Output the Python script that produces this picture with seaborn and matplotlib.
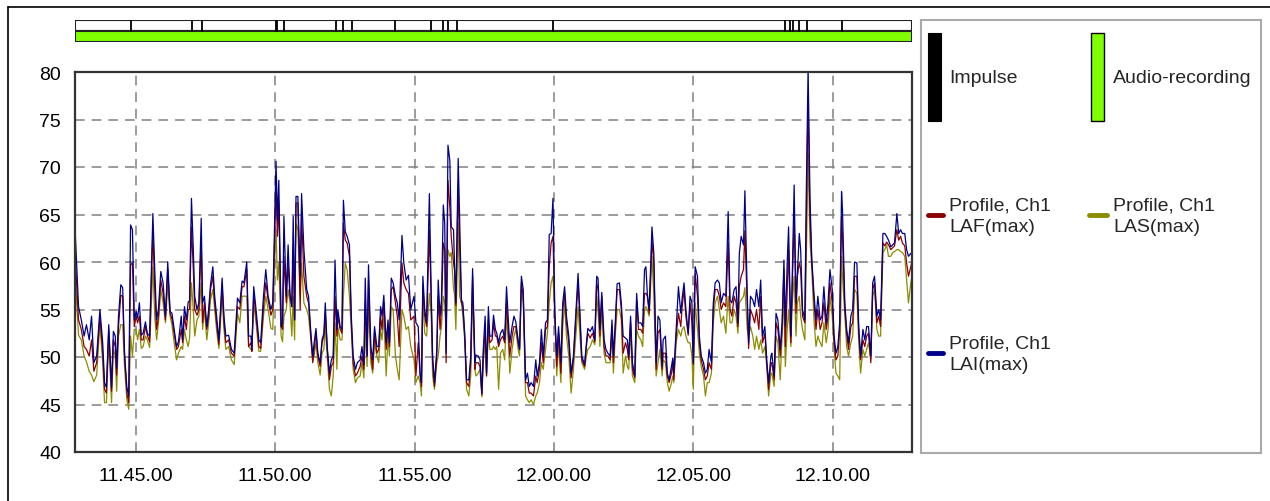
import pandas as pd
import matplotlib.pyplot as plt
import matplotlib.dates as mdates
from matplotlib.patches import Rectangle
from matplotlib.lines import Line2D
import seaborn as sns

# --- data: seconds after 11:40:00, levels in dB ---
BASE = pd.Timestamp("2000-01-01 11:40:00")

t_sec = [
    169, 177, 183, 189, 194, 200, 205, 210, 216, 223,
    229, 233, 237, 242, 248, 252, 256, 259, 263, 268,
    272, 276, 281, 285, 289, 293, 297, 301, 304, 308,
    312, 316, 321, 325, 330, 337, 341, 345, 349, 354,
    359, 364, 369, 374, 378, 382, 388, 392, 398, 401,
    405, 409, 413, 416, 420, 424, 427, 432, 436, 441,
    444, 448, 453, 457, 461, 466, 470, 474, 479, 486,
    490, 494, 500, 506, 512, 519, 524, 529,
    533, 539, 543, 548, 550, 554, 559, 565, 569, 575,
    580, 585, 591, 595, 599, 602, 605, 608, 613, 616,
    619, 624, 628, 632, 636, 639, 642, 645, 649, 654,
    657, 662, 668, 672, 677, 681, 684, 688, 692, 697,
    701, 705, 708, 712, 717, 721, 725, 729, 733, 735,
    740, 744, 747, 751, 755, 760, 764, 768, 773, 777,
    783, 787, 791, 794, 798, 801, 806, 810, 814, 819,
    823, 827, 830, 834, 839, 843, 846, 850, 854, 859,
    863, 867, 873, 877, 882, 887, 892,
    899, 903, 908, 912, 915, 918, 922, 926, 932, 936,
    939, 943, 948, 951, 955, 958, 962, 965, 968, 972,
    976, 979, 984, 986, 989, 994, 997, 1001, 1004, 1008,
    1012, 1017, 1021, 1025, 1030, 1032, 1037, 1041, 1045, 1048,
    1052, 1055, 1059, 1062, 1067, 1070, 1074, 1077, 1081, 1085,
    1090, 1094, 1098, 1103, 1105, 1110, 1114, 1118, 1123, 1126,
    1130, 1134, 1139, 1143, 1147, 1151, 1156, 1161, 1164, 1169,
    1173, 1177, 1182, 1186, 1190, 1194, 1198, 1202, 1206, 1210,
    1215, 1219, 1223, 1227, 1232, 1237, 1242, 1246, 1252,
    1256, 1260, 1266, 1270, 1273, 1278, 1283, 1288, 1292, 1295,
    1299, 1303, 1308, 1312, 1316, 1321, 1325, 1328, 1332, 1336,
    1341, 1345, 1349, 1354, 1358, 1361, 1365, 1369, 1374, 1378,
    1382, 1387, 1391, 1395, 1398, 1401, 1405, 1411, 1415, 1420,
    1424, 1428, 1433, 1435, 1440, 1444, 1448, 1453, 1456, 1458,
    1463, 1468, 1473, 1476, 1480, 1484, 1489, 1493, 1497, 1500,
    1504, 1509, 1513, 1517, 1522, 1526, 1530, 1534, 1539, 1543,
    1547, 1552, 1556, 1560, 1565, 1570, 1575, 1579, 1583, 1588,
    1592, 1596, 1599, 1603, 1608, 1611,
    1616, 1619, 1623, 1628, 1632, 1636, 1641, 1645, 1649, 1654,
    1658, 1662, 1667, 1669, 1674, 1678, 1682, 1687, 1691, 1695,
    1698, 1702, 1705, 1710, 1712, 1717, 1721, 1724, 1728, 1731,
    1735, 1740, 1743, 1747, 1751, 1755, 1760, 1764, 1768, 1773,
    1777, 1781, 1786, 1790, 1794, 1799, 1803, 1807, 1811, 1815,
    1819, 1821, 1826, 1830, 1834, 1839, 1843, 1847, 1852, 1856,
    1860, 1865, 1869, 1873, 1877, 1882, 1886, 1890, 1895, 1899,
    1903, 1908, 1912, 1916, 1920, 1925, 1929, 1933, 1938, 1942,
    1946, 1950, 1955, 1959, 1963, 1968, 1971,
]

lai_max = [
    64.1, 55.3, 53.9, 52.2, 53.4, 51.8, 54.3, 49.4, 50.1, 55.0,
    51.5, 47.3, 46.8, 53.4, 46.8, 52.7, 52.2, 48.8, 54.3, 57.6,
    57.3, 50.4, 46.8, 45.9, 63.9, 63.4, 53.9, 54.8, 54.1, 55.7,
    52.3, 52.5, 53.7, 52.5, 52.2, 65.1, 59.2, 53.9, 55.1, 59.0,
    57.8, 54.3, 60.0, 54.8, 54.6, 53.2, 51.1, 51.6, 54.3, 51.8,
    55.3, 53.9, 55.8, 55.9, 66.7, 61.3, 56.4, 55.0, 55.7, 64.6,
    55.7, 56.4, 53.2, 55.0, 57.6, 59.5, 56.4, 54.3, 51.8, 58.3,
    54.3, 52.2, 52.3, 50.8, 50.4, 56.2, 55.7, 58.0,
    57.8, 60.0, 52.2, 52.2, 50.8, 57.4, 55.0, 51.8, 51.5, 56.4,
    59.2, 56.4, 55.0, 55.7, 64.4, 70.6, 64.4, 68.6, 53.2, 53.6,
    64.8, 56.4, 61.8, 56.7, 55.3, 64.8, 53.9, 66.9, 66.9, 58.5,
    67.2, 61.3, 57.1, 56.4, 52.5, 50.1, 51.5, 53.0, 50.4, 49.4,
    51.8, 52.5, 55.7, 51.1, 48.3, 49.7, 50.1, 60.2, 52.9, 55.0,
    53.2, 52.9, 66.5, 63.2, 62.7, 61.8, 54.3, 50.1, 48.7, 49.4,
    49.7, 51.1, 49.2, 58.3, 50.1, 59.7, 51.1, 49.7, 53.2, 51.1,
    51.1, 55.3, 54.3, 56.5, 51.5, 53.9, 51.5, 58.3, 57.8, 56.4,
    55.7, 53.9, 62.8, 59.9, 58.1, 58.6, 55.0,
    56.4, 53.6, 53.2, 48.3, 47.3, 58.5, 55.0, 53.6, 67.2, 56.7,
    50.1, 47.3, 50.8, 58.1, 54.3, 56.0, 66.0, 64.1, 50.4, 72.3,
    70.7, 63.7, 63.4, 59.9, 55.7, 70.9, 64.8, 56.0, 55.7, 52.5,
    47.6, 47.6, 50.1, 59.3, 49.4, 50.2, 50.1, 49.7, 46.2, 50.8,
    54.3, 48.3, 55.3, 52.2, 52.2, 54.4, 52.9, 52.5, 51.5, 52.5,
    52.9, 51.8, 57.4, 52.9, 51.5, 53.2, 54.3, 53.7, 51.8, 50.8,
    58.5, 57.1, 47.6, 48.3, 46.9, 47.3, 46.9, 49.7, 48.0, 49.4,
    52.9, 50.1, 53.6, 53.9, 62.9, 63.0, 66.7, 54.6, 50.1, 53.2,
    49.4, 55.7, 57.4, 54.3, 52.2, 48.3, 50.1, 53.6, 58.8,
    54.6, 50.1, 49.2, 51.5, 53.0, 52.7, 53.2, 51.8, 58.5, 58.3,
    52.9, 56.8, 51.8, 50.8, 50.4, 50.1, 53.9, 50.1, 53.6, 57.7,
    57.8, 55.7, 52.2, 52.0, 51.8, 50.1, 54.3, 49.4, 48.0, 56.7,
    53.6, 53.6, 53.2, 59.2, 59.5, 56.7, 55.0, 63.7, 60.9, 49.4,
    54.3, 53.9, 49.0, 51.8, 52.2, 48.3, 47.6, 49.0, 49.9, 48.3,
    52.9, 57.4, 54.6, 56.2, 57.8, 55.0, 52.5, 56.4, 55.7, 49.4,
    59.5, 58.5, 52.2, 50.1, 49.4, 48.3, 48.7, 50.8, 49.4, 55.7,
    57.8, 58.1, 57.8, 55.7, 56.7, 56.4, 65.3, 56.0, 55.7, 57.1,
    57.4, 53.6, 60.9, 62.7, 61.8, 67.5,
    56.7, 51.5, 56.4, 56.0, 55.3, 57.1, 55.3, 58.1, 52.2, 53.2,
    49.6, 47.3, 50.1, 50.4, 48.0, 54.6, 53.9, 50.8, 53.6, 60.2,
    53.2, 59.9, 63.7, 52.2, 56.4, 68.1, 55.7, 58.8, 63.0, 61.3,
    55.0, 53.9, 66.9, 80.4, 66.9, 60.2, 56.4, 53.9, 56.4, 53.9,
    54.3, 57.4, 53.6, 55.7, 59.2, 57.1, 52.2, 50.4, 51.1, 53.6,
    67.4, 65.5, 55.7, 52.9, 51.5, 54.3, 55.0, 60.0, 59.9, 53.2,
    50.1, 52.9, 51.8, 53.2, 53.2, 50.1, 57.8, 58.5, 54.3, 55.0,
    53.9, 63.0, 63.0, 62.7, 62.3, 61.6, 61.8, 62.0, 65.1, 63.0,
    63.4, 63.0, 63.0, 61.3, 60.6, 60.9, 60.7,
]

laf_max = [
    61.3, 53.9, 52.9, 51.1, 50.8, 50.1, 51.8, 48.5, 49.4, 54.3,
    50.4, 46.6, 46.2, 52.9, 46.4, 51.8, 51.1, 48.1, 53.2, 56.5,
    56.4, 50.1, 46.2, 45.2, 59.7, 59.9, 53.2, 54.3, 53.6, 54.3,
    51.8, 51.8, 53.2, 52.3, 51.6, 63.4, 57.1, 52.9, 54.3, 58.1,
    56.7, 53.9, 59.2, 54.6, 54.0, 52.7, 50.8, 51.1, 52.9, 51.5,
    54.3, 52.9, 55.0, 55.0, 63.7, 59.2, 55.0, 54.4, 55.0, 62.3,
    53.6, 55.7, 52.9, 54.3, 57.1, 58.5, 55.7, 53.6, 51.3, 57.4,
    53.6, 51.5, 51.8, 50.4, 50.1, 55.3, 55.0, 57.4,
    57.4, 59.2, 51.1, 51.5, 50.6, 56.7, 54.3, 51.1, 50.9, 55.3,
    57.8, 56.0, 54.4, 55.0, 62.3, 68.3, 62.7, 66.2, 53.2, 52.9,
    60.6, 55.7, 59.9, 56.4, 55.3, 61.3, 53.9, 66.2, 66.2, 55.0,
    64.8, 58.5, 56.4, 55.7, 52.2, 49.4, 50.8, 52.5, 50.1, 49.0,
    51.5, 52.2, 54.6, 51.1, 47.6, 49.0, 49.4, 56.4, 52.2, 54.3,
    52.9, 52.5, 64.1, 62.3, 62.0, 60.6, 53.6, 49.4, 48.0, 48.3,
    49.0, 50.1, 48.7, 55.7, 50.1, 58.1, 50.4, 48.7, 52.5, 50.4,
    50.8, 54.3, 52.9, 55.7, 50.8, 53.2, 51.1, 57.1, 57.4, 55.7,
    54.3, 51.1, 59.9, 57.8, 57.1, 56.7, 53.9,
    54.3, 48.0, 51.5, 48.0, 46.9, 57.4, 54.3, 53.2, 63.4, 55.7,
    49.4, 46.9, 50.1, 56.4, 52.9, 55.0, 62.0, 61.3, 49.4, 68.6,
    65.8, 62.7, 59.9, 59.2, 55.4, 68.1, 62.0, 55.7, 55.3, 52.2,
    47.3, 46.9, 49.4, 58.5, 48.7, 49.4, 49.4, 49.0, 46.0, 50.1,
    52.9, 48.0, 53.9, 51.5, 51.8, 53.6, 52.2, 52.2, 51.1, 51.8,
    52.2, 51.5, 55.7, 51.8, 50.1, 52.2, 53.2, 53.2, 51.5, 50.8,
    57.8, 56.4, 47.3, 47.3, 46.2, 46.2, 45.9, 48.0, 47.3, 48.7,
    51.5, 49.4, 52.9, 53.2, 59.5, 62.0, 62.7, 54.3, 49.0, 52.5,
    48.3, 55.0, 56.7, 53.6, 51.5, 47.8, 49.7, 52.9, 57.8,
    53.9, 49.7, 49.0, 51.1, 52.5, 52.0, 52.5, 51.6, 57.8, 57.1,
    52.2, 56.4, 51.1, 50.1, 50.1, 49.7, 53.2, 49.4, 52.9, 57.1,
    57.1, 55.0, 50.4, 51.5, 50.8, 49.7, 53.6, 48.7, 47.8, 56.0,
    52.9, 52.9, 52.5, 56.7, 56.7, 56.4, 54.6, 62.3, 59.9, 48.7,
    52.5, 52.9, 48.7, 50.4, 50.4, 48.0, 47.3, 48.3, 49.4, 47.6,
    52.2, 54.6, 53.2, 55.3, 57.1, 54.3, 52.3, 55.7, 53.6, 49.2,
    58.8, 56.4, 51.5, 49.7, 48.7, 47.6, 48.0, 49.4, 48.7, 55.0,
    57.1, 57.1, 56.4, 55.0, 55.7, 55.3, 62.0, 55.0, 54.3, 56.4,
    55.7, 53.2, 57.4, 58.5, 59.2, 63.3,
    55.7, 50.9, 55.0, 54.3, 53.6, 55.0, 52.9, 56.4, 51.5, 52.5,
    49.4, 46.6, 49.4, 49.4, 47.6, 53.6, 52.9, 50.1, 52.9, 59.2,
    51.1, 57.1, 61.3, 51.5, 55.7, 64.8, 54.6, 58.5, 59.9, 59.2,
    54.3, 53.6, 64.1, 77.3, 64.8, 59.9, 55.7, 52.9, 55.0, 52.9,
    53.6, 55.7, 52.9, 54.3, 57.8, 55.7, 51.5, 49.7, 50.1, 52.9,
    64.8, 62.7, 55.0, 52.5, 50.8, 53.2, 53.6, 58.5, 58.5, 52.5,
    49.7, 51.8, 51.1, 52.2, 52.5, 49.4, 57.1, 57.8, 53.6, 54.3,
    53.2, 62.0, 61.7, 62.1, 61.8, 61.3, 61.5, 61.7, 63.4, 62.3,
    62.7, 62.0, 61.7, 59.9, 58.5, 59.5, 60.2,
]

las_max = [
    59.2, 52.3, 51.8, 50.1, 49.5, 48.5, 48.1, 47.4, 48.1, 53.6,
    49.4, 45.2, 45.2, 51.8, 45.2, 50.8, 50.1, 46.4, 52.2, 53.4,
    53.4, 49.0, 45.5, 44.5, 52.2, 50.1, 52.9, 52.9, 51.8, 52.9,
    50.9, 51.1, 52.2, 51.8, 51.0, 59.5, 54.3, 51.8, 53.6, 57.1,
    55.7, 53.6, 57.6, 54.3, 53.4, 51.8, 49.7, 50.4, 51.1, 50.8,
    52.9, 51.8, 51.1, 52.0, 57.8, 55.0, 52.2, 53.9, 54.3, 57.8,
    52.9, 55.0, 51.8, 53.6, 56.0, 57.1, 55.0, 52.9, 50.9, 56.4,
    52.9, 50.8, 51.1, 49.7, 49.2, 54.6, 53.6, 56.4,
    56.4, 56.4, 51.1, 50.8, 50.6, 55.7, 53.6, 50.6, 50.6, 54.3,
    56.4, 55.0, 53.0, 52.9, 59.9, 63.4, 58.1, 59.9, 52.2, 51.6,
    54.3, 55.0, 57.1, 55.7, 52.2, 56.4, 51.8, 64.1, 63.4, 56.5,
    59.9, 55.7, 55.0, 54.3, 51.8, 49.6, 50.1, 51.5, 49.4, 48.1,
    50.4, 50.8, 53.2, 50.1, 46.6, 45.9, 48.0, 53.6, 48.7, 53.2,
    51.8, 51.8, 56.4, 59.9, 59.2, 56.4, 52.9, 48.7, 47.3, 47.8,
    48.0, 49.4, 47.8, 52.9, 49.0, 56.4, 49.4, 48.3, 51.5, 50.1,
    49.4, 52.9, 51.8, 54.3, 48.0, 52.2, 50.1, 55.3, 55.0, 50.1,
    48.7, 47.6, 55.0, 54.3, 52.9, 53.2, 51.1,
    49.7, 47.3, 48.0, 47.3, 45.9, 56.4, 52.5, 52.2, 56.7, 54.3,
    48.0, 46.6, 49.4, 50.1, 52.2, 53.2, 56.4, 55.7, 52.9, 61.3,
    60.6, 61.0, 57.1, 56.7, 52.9, 64.1, 56.4, 55.7, 54.3, 51.8,
    46.6, 45.9, 48.0, 57.1, 48.7, 48.0, 48.3, 48.7, 45.8, 49.4,
    51.5, 48.0, 52.9, 50.8, 50.8, 51.1, 50.8, 51.1, 46.6, 50.4,
    50.8, 49.7, 54.3, 50.8, 48.3, 50.8, 52.2, 52.9, 50.8, 50.1,
    57.1, 55.7, 45.9, 45.5, 45.2, 45.5, 45.0, 45.9, 46.2, 47.3,
    49.4, 48.7, 50.8, 52.5, 55.7, 57.8, 58.5, 54.3, 48.0, 51.5,
    47.3, 53.2, 55.7, 52.2, 50.1, 46.2, 48.7, 51.5, 55.3,
    52.2, 49.4, 48.7, 50.1, 50.8, 51.1, 51.8, 51.3, 56.4, 55.0,
    51.1, 55.0, 50.4, 49.4, 49.4, 49.4, 52.5, 48.3, 52.2, 55.0,
    55.0, 53.9, 48.3, 50.1, 49.0, 48.7, 52.9, 48.0, 47.3, 52.9,
    52.2, 51.8, 51.1, 55.0, 55.3, 55.0, 54.3, 60.6, 56.4, 48.0,
    49.4, 50.8, 48.0, 49.7, 49.4, 47.3, 46.4, 47.3, 48.0, 47.3,
    51.5, 52.9, 52.2, 52.9, 53.2, 52.2, 51.5, 51.5, 50.1, 46.6,
    55.7, 52.9, 50.4, 49.0, 48.0, 45.9, 47.3, 47.3, 48.3, 53.6,
    55.7, 56.4, 55.0, 53.6, 54.3, 52.5, 56.4, 53.6, 53.6, 55.0,
    54.3, 52.5, 55.7, 56.0, 56.4, 57.3,
    52.9, 52.2, 53.2, 52.2, 50.8, 52.2, 50.8, 51.8, 50.4, 51.1,
    49.0, 45.9, 48.3, 48.3, 46.9, 52.2, 51.5, 47.6, 52.2, 56.4,
    49.0, 52.9, 55.0, 51.1, 55.0, 58.5, 52.2, 55.7, 56.4, 54.3,
    52.9, 51.8, 59.9, 71.4, 62.3, 59.2, 53.6, 51.1, 52.2, 51.5,
    51.1, 53.6, 51.5, 52.9, 56.4, 54.3, 50.8, 48.3, 48.0, 47.6,
    60.6, 58.5, 54.3, 51.1, 50.1, 51.5, 52.2, 57.1, 56.7, 51.5,
    48.3, 50.8, 50.1, 50.8, 51.5, 49.8, 56.4, 57.1, 52.9, 52.2,
    52.2, 61.0, 61.3, 61.8, 60.6, 60.6, 61.0, 61.1, 61.3, 61.3,
    61.1, 61.0, 60.6, 58.1, 55.7, 57.8, 58.6,
]

# impulse markers (seconds after 11:40:00)
impulse_sec = [289, 421, 442, 602, 605, 619, 730, 747, 765, 858,
               935, 961, 973, 992, 1199, 1697, 1707, 1715, 1727, 1745, 1821]

view_sec = (169.4, 1970.6)
y_ticks = [40, 45, 50, 55, 60, 65, 70, 75, 80]

series_names = ["Profile, Ch1\nLAS(max)", "Profile, Ch1\nLAF(max)", "Profile, Ch1\nLAI(max)"]
series_colors = ["#8c8c00", "#8b0000", "#00008b"]

# --- style ---
sns.set_style("white")
plt.rcParams['font.family'] = ['Liberation Sans', 'DejaVu Sans']
plt.rcParams['lines.scale_dashes'] = False

W, H = 1270, 502
fig = plt.figure(figsize=(W / 100, H / 100), dpi=100)

times = BASE + pd.to_timedelta(t_sec, unit="s")
df = pd.concat([
    pd.DataFrame({"time": times, "level": las_max, "series": series_names[0]}),
    pd.DataFrame({"time": times, "level": laf_max, "series": series_names[1]}),
    pd.DataFrame({"time": times, "level": lai_max, "series": series_names[2]}),
])

x0 = BASE + pd.Timedelta(seconds=view_sec[0])
x1 = BASE + pd.Timedelta(seconds=view_sec[1])

# main plot
ax = fig.add_axes([75 / W, 1 - 453 / H, 837 / W, 380 / H])
sns.lineplot(data=df, x="time", y="level", hue="series", hue_order=series_names,
             palette=series_colors, estimator=None, legend=False, linewidth=0.9, ax=ax)
ax.set_xlim(x0, x1)
ax.set_ylim(40, 80)
ax.set_yticks(y_ticks)
ax.xaxis.set_major_locator(mdates.MinuteLocator(byminute=range(0, 60, 5)))
ax.xaxis.set_major_formatter(mdates.DateFormatter("%H.%M.%S"))
ax.set_xlabel("")
ax.set_ylabel("")
ax.set_axisbelow(True)
ax.grid(True, color="#808080", linestyle=(0, (7, 5)), linewidth=1.1)
for sp in ax.spines.values():
    sp.set_visible(True)
    sp.set_color("#333333")
    sp.set_linewidth(1.6)
ax.tick_params(direction="out", length=5, width=1, color="#333333",
               labelsize=14, labelcolor="black", pad=5)
ax.tick_params(axis="x", pad=6)

# impulse / audio-recording strip
ax_top = fig.add_axes([75 / W, 1 - 42.7 / H, 837 / W, 22 / H])
ax_top.set_xlim(x0, x1)
ax_top.set_ylim(0, 2)
ax_top.add_patch(Rectangle((0, 0.5), 1, 0.5, transform=ax_top.transAxes,
                           facecolor="white", edgecolor="#222222", linewidth=1.5))
ax_top.add_patch(Rectangle((0, 0), 1, 0.5, transform=ax_top.transAxes,
                           facecolor="#80ff00", edgecolor="#222222", linewidth=1.5))
for s in impulse_sec:
    ax_top.axvline(BASE + pd.Timedelta(seconds=s), ymin=0.5, ymax=1.0,
                   color="black", linewidth=1.3)
ax_top.axis("off")

# legend panel
lg = fig.add_axes([921 / W, 1 - 454 / H, 340 / W, 433.3 / H])
lg.set_xlim(0, 340)
lg.set_ylim(433.3, 0)
lg.set_xticks([])
lg.set_yticks([])
for sp in lg.spines.values():
    sp.set_color("#aaaaaa")
    sp.set_linewidth(1.5)
lg.add_patch(Rectangle((7, 13.3), 13, 87.7, facecolor="black", edgecolor="black", linewidth=0.8))
lg.text(28, 57.6, "Impulse", fontsize=14, va="center", ha="left")
lg.add_patch(Rectangle((170, 13.3), 13, 87.7, facecolor="#80ff00", edgecolor="black", linewidth=1))
lg.text(192, 57.6, "Audio-recording", fontsize=14, va="center", ha="left")

legend_rows = [(7, 22, 195, 28, series_names[1], series_colors[1]),
               (168, 186, 195, 192, series_names[0], series_colors[0]),
               (7, 22, 333, 28, series_names[2], series_colors[2])]
for xa, xb, yy, xt, name, col in legend_rows:
    lg.add_line(Line2D([xa, xb], [yy, yy], color=col, linewidth=3.5, solid_capstyle="round"))
    lg.text(xt, yy + 1, name, fontsize=14, va="center", ha="left", linespacing=1.4)

# outer frame
fig.add_artist(Line2D([8 / W, 8 / W], [0, 1 - 8 / H], color="black", linewidth=1.2))
fig.add_artist(Line2D([8 / W, 1], [1 - 8 / H, 1 - 8 / H], color="black", linewidth=1.2))

fig.savefig("out.png", dpi=100)
